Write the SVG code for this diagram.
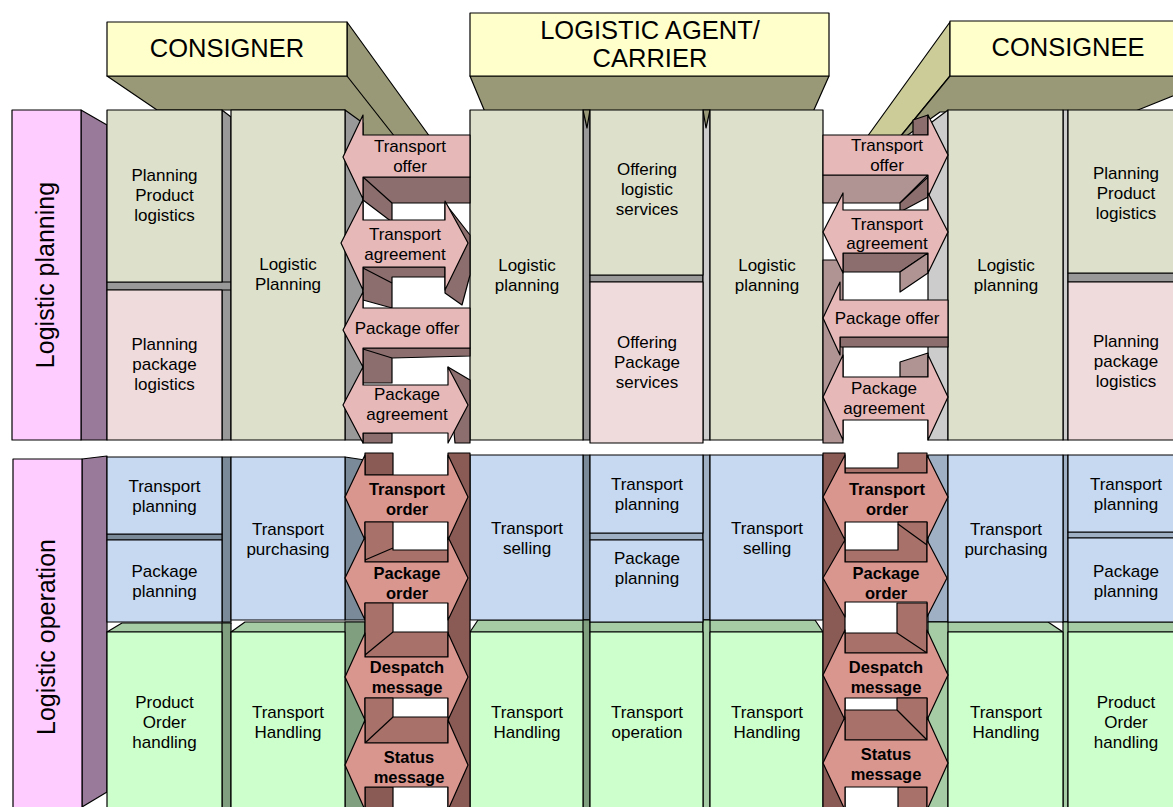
<svg xmlns="http://www.w3.org/2000/svg" width="1173" height="807" viewBox="0 0 1173 807">
<style>
text{font-family:"Liberation Sans",Arial,sans-serif;font-size:17px;text-anchor:middle;fill:#000}
.hd{font-size:25.5px}
.lb{font-size:25px}
.bd{font-weight:bold;font-size:16.5px}
.s{stroke:#000;stroke-width:1.2;stroke-linejoin:round}
.ln{stroke:#000;stroke-width:1.2;fill:none}
.pl{fill:#dde1cb}.pk{fill:#efdbdb}.bl{fill:#c6d9f0}.gr{fill:#ccffcc}.ye{fill:#ffffcc}.pi{fill:#ffccff}
.ol{fill:#999977}.ol2{fill:#cccc99}.pu{fill:#9a7a9a}
.g1{fill:#999999}.g2{fill:#cccccc}.b1{fill:#7a8a99}.b2{fill:#9fb0c4}.gd{fill:#7f9f7f}.gl{fill:#a6cca6}
.ap{fill:#e6b9b8}.ad{fill:#8c6e6e}.am{fill:#b09393}
.ao{fill:#d9968f}.od{fill:#8a5a55}.om{fill:#a8726a}
</style>
<rect width="1173" height="807" fill="#ffffff"/>

<g id="header-consigner">
<polygon class="ol s" points="107,76 347,76 347,22 430,137 345,137 345,110 157,110"/>
<line class="ln" x1="347" y1="76" x2="395" y2="137"/>
<rect class="ye s" x="107" y="22" width="240" height="54"/>
<text class="hd" x="227" y="57">CONSIGNER</text>
</g>
<g id="header-agent">
<polygon class="ol s" points="470,76 829,76 813,112 485,112"/>
<rect class="ye s" x="470" y="13" width="359" height="63"/>
<text class="hd" x="650" y="39">LOGISTIC AGENT/</text>
<text class="hd" x="650" y="67">CARRIER</text>
</g>
<g id="header-consignee">
<polygon class="ol2 s" points="950,22 950,76 900,137 867,137"/>
<polygon class="ol s" points="950,76 1180,76 1180,93 1133,112 940,112 905,137 900,137"/>
<rect class="ye s" x="950" y="21" width="230" height="55"/>
<text class="hd" x="1068" y="56">CONSIGNEE</text>
</g>

<g id="label-planning">
<polygon class="pu s" points="81,110 107,125 107,440 81,440"/>
<rect class="pi s" x="12" y="110" width="69" height="330"/>
<text class="lb" transform="translate(54,275) rotate(-90)">Logistic planning</text>
</g>
<g id="label-operation">
<polygon class="pu s" points="82,459 107,456 107,792 82,807"/>
<rect class="pi s" x="13" y="459" width="69" height="350"/>
<text class="lb" transform="translate(55,637) rotate(-90)">Logistic operation</text>
</g>

<g id="box-sides">
<polygon class="g1 s" points="222,110 231,117 231,440 222,440"/>
<polygon class="g1 s" points="345,110 363,123 363,440 345,440"/>
<polygon class="g1 s" points="107,282 231,282 231,290 107,290"/>
<rect class="g1 s" x="583" y="110" width="7" height="330"/>
<rect class="g1 s" x="590" y="275" width="113" height="7"/>
<rect class="g2 s" x="703" y="110" width="7" height="330"/>
<polygon class="ol s" points="583,110 590,110 587,128"/>
<polygon class="ol s" points="703,110 710,110 706,128"/>
<polygon class="g2 s" points="928,125 948,110 948,440 928,440"/>
<rect class="g2 s" x="1063" y="110" width="5" height="330"/>
<rect class="g1 s" x="1068" y="273" width="112" height="9"/>

<rect class="b1 s" x="222" y="457" width="9" height="165"/>
<rect class="b1 s" x="107" y="534" width="115" height="6"/>
<polygon class="b1 s" points="345,457 365,460 365,620 345,620"/>
<polygon class="gl s" points="107,632 222,632 231,623 122,623"/>
<rect class="gd s" x="222" y="623" width="9" height="190"/>
<polygon class="gl s" points="231,632 345,632 365,622 245,622"/>
<rect class="gd s" x="345" y="622" width="20" height="190"/>

<rect class="b1 s" x="583" y="455" width="7" height="165"/>
<rect class="b2 s" x="590" y="533" width="113" height="7"/>
<rect class="b2 s" x="703" y="455" width="7" height="165"/>
<polygon class="gl s" points="470,632 583,632 590,620 478,620"/>
<rect class="gd s" x="583" y="620" width="7" height="190"/>
<rect class="gl s" x="590" y="622" width="113" height="10"/>
<polygon class="gl s" points="710,632 823,632 815,620 703,620"/>
<rect class="gl s" x="703" y="620" width="7" height="190"/>

<rect class="b2 s" x="928" y="455" width="20" height="167"/>
<rect class="b2 s" x="1063" y="455" width="5" height="167"/>
<rect class="b2 s" x="1068" y="532" width="112" height="6"/>
<polygon class="gl s" points="948,632 1063,632 1048,622 928,622"/>
<rect class="gl s" x="928" y="622" width="20" height="190"/>
<polygon class="gl s" points="1068,632 1180,632 1180,622 1063,622"/>
<rect class="gl s" x="1063" y="622" width="5" height="190"/>
</g>

<g id="consigner-planning-product">
<rect class="pl s" x="107" y="110" width="115" height="172"/>
<text x="164.5" y="181">Planning</text><text x="164.5" y="201">Product</text><text x="164.5" y="221">logistics</text>
</g>
<g id="consigner-planning-package">
<rect class="pk s" x="107" y="290" width="115" height="150"/>
<text x="164.5" y="350">Planning</text><text x="164.5" y="370">package</text><text x="164.5" y="390">logistics</text>
</g>
<g id="consigner-logistic-planning">
<rect class="pl s" x="231" y="110" width="114" height="330"/>
<text x="288" y="270">Logistic</text><text x="288" y="290">Planning</text>
</g>
<g id="agent-logistic-planning-1">
<rect class="pl s" x="470" y="110" width="113" height="330"/>
<text x="527" y="271">Logistic</text><text x="527" y="291">planning</text>
</g>
<g id="agent-offering-logistic">
<rect class="pl s" x="590" y="110" width="113" height="165"/>
<text x="647" y="175">Offering</text><text x="647" y="195">logistic</text><text x="647" y="215">services</text>
</g>
<g id="agent-offering-package">
<rect class="pk s" x="590" y="282" width="113" height="161"/>
<text x="647" y="348">Offering</text><text x="647" y="368">Package</text><text x="647" y="388">services</text>
</g>
<g id="agent-logistic-planning-2">
<rect class="pl s" x="710" y="110" width="113" height="330"/>
<text x="767" y="271">Logistic</text><text x="767" y="291">planning</text>
</g>
<g id="consignee-logistic-planning">
<rect class="pl s" x="948" y="110" width="115" height="330"/>
<text x="1006" y="271">Logistic</text><text x="1006" y="291">planning</text>
</g>
<g id="consignee-planning-product">
<rect class="pl s" x="1068" y="110" width="112" height="163"/>
<text x="1126" y="179">Planning</text><text x="1126" y="199">Product</text><text x="1126" y="219">logistics</text>
</g>
<g id="consignee-planning-package">
<rect class="pk s" x="1068" y="282" width="112" height="158"/>
<text x="1126" y="347">Planning</text><text x="1126" y="367">package</text><text x="1126" y="387">logistics</text>
</g>

<g id="consigner-transport-planning">
<rect class="bl s" x="107" y="457" width="115" height="77"/>
<text x="164.5" y="492">Transport</text><text x="164.5" y="512">planning</text>
</g>
<g id="consigner-package-planning">
<rect class="bl s" x="107" y="540" width="115" height="82"/>
<text x="164.5" y="577">Package</text><text x="164.5" y="597">planning</text>
</g>
<g id="consigner-product-order">
<rect class="gr s" x="107" y="632" width="115" height="180"/>
<text x="164.5" y="708">Product</text><text x="164.5" y="728">Order</text><text x="164.5" y="748">handling</text>
</g>
<g id="consigner-transport-purchasing">
<rect class="bl s" x="231" y="457" width="114" height="163"/>
<text x="288" y="535">Transport</text><text x="288" y="555">purchasing</text>
</g>
<g id="consigner-transport-handling">
<rect class="gr s" x="231" y="632" width="114" height="180"/>
<text x="288" y="718">Transport</text><text x="288" y="738">Handling</text>
</g>
<g id="agent-transport-selling-1">
<rect class="bl s" x="470" y="455" width="113" height="165"/>
<text x="527" y="534">Transport</text><text x="527" y="554">selling</text>
</g>
<g id="agent-transport-handling-1">
<rect class="gr s" x="470" y="632" width="113" height="180"/>
<text x="527" y="718">Transport</text><text x="527" y="738">Handling</text>
</g>
<g id="agent-transport-planning">
<rect class="bl s" x="590" y="455" width="113" height="78"/>
<text x="647" y="490">Transport</text><text x="647" y="510">planning</text>
</g>
<g id="agent-package-planning">
<rect class="bl s" x="590" y="540" width="113" height="82"/>
<text x="647" y="564">Package</text><text x="647" y="584">planning</text>
</g>
<g id="agent-transport-operation">
<rect class="gr s" x="590" y="632" width="113" height="180"/>
<text x="647" y="718">Transport</text><text x="647" y="738">operation</text>
</g>
<g id="agent-transport-selling-2">
<rect class="bl s" x="710" y="455" width="113" height="165"/>
<text x="767" y="534">Transport</text><text x="767" y="554">selling</text>
</g>
<g id="agent-transport-handling-2">
<rect class="gr s" x="710" y="632" width="113" height="180"/>
<text x="767" y="718">Transport</text><text x="767" y="738">Handling</text>
</g>
<g id="consignee-transport-purchasing">
<rect class="bl s" x="948" y="455" width="115" height="167"/>
<text x="1006" y="535">Transport</text><text x="1006" y="555">purchasing</text>
</g>
<g id="consignee-transport-handling">
<rect class="gr s" x="948" y="632" width="115" height="180"/>
<text x="1006" y="718">Transport</text><text x="1006" y="738">Handling</text>
</g>
<g id="consignee-transport-planning">
<rect class="bl s" x="1068" y="455" width="112" height="77"/>
<text x="1126" y="490">Transport</text><text x="1126" y="510">planning</text>
</g>
<g id="consignee-package-planning">
<rect class="bl s" x="1068" y="538" width="112" height="84"/>
<text x="1126" y="577">Package</text><text x="1126" y="597">planning</text>
</g>
<g id="consignee-product-order">
<rect class="gr s" x="1068" y="632" width="112" height="180"/>
<text x="1126" y="708">Product</text><text x="1126" y="728">Order</text><text x="1126" y="748">handling</text>
</g>

<g id="connectors">
<g id="left-transport-offer">
<polygon class="ad s" points="363,177 470,177 470,203 392,203 392,222 363,200"/>
<line class="ln" x1="363" y1="177" x2="392" y2="203"/>
<polygon class="ap s" points="343,157 363,115 363,135 470,135 470,177 363,177 363,199"/>
<text x="410" y="152">Transport</text><text x="410" y="172">offer</text>
</g>
<g id="left-transport-agreement">
<polygon class="ad s" points="445,203 470,235 470,275 462,305 445,293"/>
<polygon class="ad s" points="363,267 445,267 445,277 392,277 392,308 363,300"/>
<line class="ln" x1="363" y1="268" x2="392" y2="283"/>
<polygon class="ap s" points="341,243 363,200 363,220 445,220 445,201 468,243 445,290 445,267 363,267 363,290"/>
<text x="405" y="240">Transport</text><text x="405" y="260">agreement</text>
</g>
<g id="left-package-offer">
<polygon class="ad s" points="363,348 470,348 470,356 392,358 392,383 363,383"/>
<line class="ln" x1="363" y1="349" x2="392" y2="358"/>
<polygon class="ap s" points="343,330 363,292 363,308 470,308 470,348 363,348 363,367"/>
<text x="407" y="334">Package offer</text>
</g>
<g id="left-package-agreement">
<polygon class="ad s" points="448,367 470,380 470,443 455,443"/>
<rect class="ad s" x="363" y="433" width="29" height="10"/>
<polygon class="ap s" points="343,405 363,367 363,385 448,385 448,367 468,405 448,443 448,433 363,433 363,443"/>
<text x="407" y="400">Package</text><text x="407" y="420">agreement</text>
</g>

<polygon class="od s" points="448,453 470,453 470,812 448,812"/>
<g id="left-transport-order">
<polygon class="od s" points="365,453 393,453 393,475 365,475"/>
<polygon class="ao s" points="345,497 365,455 365,475 448,475 448,455 468,497 448,540 448,522 365,522 365,540"/>
<text class="bd" x="407" y="495">Transport</text><text class="bd" x="407" y="515">order</text>
</g>
<g id="left-package-order">
<polygon class="om s" points="365,522 393,522 393,550 448,550 448,562 365,562"/>
<line class="ln" x1="365" y1="560" x2="393" y2="548"/>
<polygon class="ao s" points="345,578 365,537 365,562 448,562 448,537 468,578 448,620 448,603 365,603 365,620"/>
<text class="bd" x="407" y="579">Package</text><text class="bd" x="407" y="599">order</text>
</g>
<g id="left-despatch-message">
<polygon class="om s" points="365,603 393,603 393,632 448,632 448,657 365,657"/>
<line class="ln" x1="365" y1="655" x2="393" y2="632"/>
<polygon class="ao s" points="345,677 365,633 365,657 448,657 448,633 468,677 448,720 448,698 365,698 365,720"/>
<text class="bd" x="407" y="673">Despatch</text><text class="bd" x="407" y="693">message</text>
</g>
<g id="left-status-message">
<polygon class="om s" points="365,698 393,698 393,717 448,717 448,743 365,743"/>
<line class="ln" x1="365" y1="743" x2="393" y2="717"/>
<rect class="od s" x="365" y="787" width="28" height="25"/>
<polygon class="ao s" points="345,765 365,720 365,743 448,743 448,720 468,765 448,810 448,787 365,787 365,810"/>
<text class="bd" x="409" y="763">Status</text><text class="bd" x="409" y="783">message</text>
</g>

<rect class="am s" x="823" y="260" width="20" height="183"/>
<g id="right-transport-offer">
<polygon class="am s" points="823,175 928,175 900,203 823,203"/>
<polygon class="ad s" points="928,177 928,197 900,212 900,203"/>
<polygon class="ad s" points="913,120 928,115 928,135 913,135"/>
<polygon class="ap s" points="823,135 928,135 928,115 948,155 928,197 928,175 823,175"/>
<text x="887" y="151">Transport</text><text x="887" y="171">offer</text>
</g>
<g id="right-transport-agreement">
<polygon class="ad s" points="843,253 928,253 900,272 843,272"/>
<polygon class="am s" points="928,253 928,273 900,292 900,272"/>
<polygon class="ap s" points="823,232 843,193 843,210 928,210 928,193 948,232 928,273 928,253 843,253 843,273"/>
<text x="887" y="230">Transport</text><text x="887" y="249">agreement</text>
</g>
<g id="right-package-offer">
<polygon class="ad s" points="840,337 948,337 948,347 840,347"/>
<polygon class="ap s" points="823,318 840,282 840,300 948,300 948,337 840,337 840,355"/>
<text x="887" y="324">Package offer</text>
</g>
<g id="right-package-agreement">
<polygon class="am s" points="900,362 928,353 928,377 900,377"/>
<polygon class="ap s" points="823,397 843,355 843,377 928,377 928,355 948,397 928,440 928,420 843,420 843,440"/>
<text x="884" y="394">Package</text><text x="884" y="414">agreement</text>
</g>

<polygon class="od s" points="823,453 845,453 845,812 823,812"/>
<g id="right-transport-order">
<polygon class="om s" points="898,453 927,453 927,473 845,473 845,468 898,468"/>
<polygon class="ao s" points="823,497 845,455 845,473 927,473 927,455 948,497 927,540 927,522 845,522 845,540"/>
<text class="bd" x="887" y="495">Transport</text><text class="bd" x="887" y="515">order</text>
</g>
<g id="right-package-order">
<polygon class="om s" points="898,522 927,522 927,562 845,562 845,550 898,550"/>
<line class="ln" x1="898" y1="524" x2="927" y2="545"/>
<polygon class="ao s" points="823,578 845,540 845,562 927,562 927,540 947,578 927,617 927,602 845,602 845,617"/>
<text class="bd" x="886" y="579">Package</text><text class="bd" x="886" y="599">order</text>
</g>
<g id="right-despatch-message">
<polygon class="om s" points="897,603 927,603 927,653 845,653 845,633 897,633"/>
<line class="ln" x1="897" y1="633" x2="927" y2="653"/>
<polygon class="ao s" points="823,675 845,630 845,653 927,653 927,630 948,675 927,720 927,698 845,698 845,720"/>
<text class="bd" x="886" y="673">Despatch</text><text class="bd" x="886" y="693">message</text>
</g>
<g id="right-status-message">
<polygon class="om s" points="897,698 927,698 927,740 845,740 845,710 897,710"/>
<line class="ln" x1="897" y1="710" x2="927" y2="740"/>
<rect class="om s" x="898" y="787" width="29" height="25"/>
<polygon class="ao s" points="823,763 845,717 845,740 927,740 927,717 948,763 927,810 927,787 845,787 845,810"/>
<text class="bd" x="886" y="760">Status</text><text class="bd" x="886" y="780">message</text>
</g>
</g>
</svg>
